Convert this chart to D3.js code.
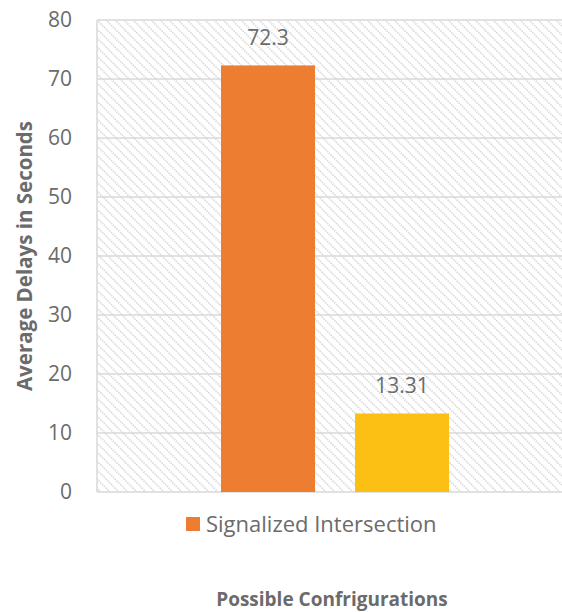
<!DOCTYPE html>
<html>
<head>
<meta charset="utf-8">
<script src="https://cdn.jsdelivr.net/npm/d3@7"></script>
<style>
  body { margin: 0; background: #fff; }
  text { font-family: "Open Sans", "Liberation Sans", sans-serif; fill: #6b6b6b; }
</style>
</head>
<body>
<svg></svg>
<script>
var categories = ['Possible Confrigurations'];
var series = ['Signalized Intersection', ''];
var values = [72.3, 13.31];
var colors = ['#ED7D31', '#FCBF14'];
var yTicks = [0, 10, 20, 30, 40, 50, 60, 70, 80];

var width = 562, height = 612;
var svg = d3.select('svg').attr('width', width).attr('height', height);

var margin = {top: 20, right: -11, bottom: 120, left: 97},
  chartWidth = width - margin.left - margin.right,
  chartHeight = height - margin.top - margin.bottom;

// hatch background
var defs = svg.append('defs');
var pat = defs.append('pattern')
  .attr('id', 'hatch')
  .attr('patternUnits', 'userSpaceOnUse')
  .attr('width', 9).attr('height', 9);
pat.append('path')
  .attr('d', 'M-2,-2 L11,11 M-2,7 L2,11 M7,-2 L11,2')
  .attr('stroke', '#d9d9d9')
  .attr('stroke-width', 1.8)
  .attr('stroke-dasharray', '1.5,1');

var g = svg.append('g').attr('transform', 'translate(' + margin.left + ',' + margin.top + ')');

var x0 = d3.scaleBand().domain(categories).range([0, chartWidth]);
var x1 = d3.scaleBand().domain(series)
  .range([x0.bandwidth() / 2 - 114, x0.bandwidth() / 2 + 114])
  .paddingInner(40 / 134).paddingOuter(0);
var y = d3.scaleLinear().domain([0, 80]).range([chartHeight, 0]);

g.append('rect')
  .attr('x', 0).attr('y', 0)
  .attr('width', chartWidth).attr('height', chartHeight)
  .attr('fill', 'url(#hatch)');

// gridlines
g.selectAll('line.grid')
  .data(yTicks)
  .enter().append('line')
  .attr('class', 'grid')
  .attr('x1', 0).attr('x2', chartWidth)
  .attr('y1', function(d) { return y(d); })
  .attr('y2', function(d) { return y(d); })
  .attr('stroke', '#d9d9d9')
  .attr('stroke-width', 1.5);

g.append('line')
  .attr('x1', 0).attr('x2', 0)
  .attr('y1', 0).attr('y2', chartHeight)
  .attr('stroke', '#d9d9d9')
  .attr('stroke-width', 1.5);

// y axis labels
var yAxis = g.append('g')
  .call(d3.axisLeft(y).tickValues(yTicks).tickSize(0).tickPadding(25));
yAxis.select('.domain').remove();
yAxis.selectAll('text')
  .style('font-size', '21px')
  .style('font-family', '"Open Sans", sans-serif')
  .attr('fill', '#6b6b6b');

// bars
var cat = categories[0];
g.selectAll('rect.bar')
  .data(values)
  .enter().append('rect')
  .attr('class', 'bar')
  .attr('x', function(d, i) { return x0(cat) + x1(series[i]); })
  .attr('width', x1.bandwidth())
  .attr('y', function(d) { return y(d); })
  .attr('height', function(d) { return y(0) - y(d); })
  .attr('fill', function(d, i) { return colors[i]; });

g.selectAll('text.val')
  .data(values)
  .enter().append('text')
  .attr('class', 'val')
  .attr('x', function(d, i) { return x0(cat) + x1(series[i]) + x1.bandwidth() / 2; })
  .attr('y', function(d) { return y(d) - 20; })
  .attr('text-anchor', 'middle')
  .style('font-size', '21px')
  .text(function(d) { return d; });

// legend
var leg = svg.append('g').attr('transform', 'translate(186,517)');
series.forEach(function(s, i) {
  if (!s) return;
  leg.append('rect').attr('width', 14).attr('height', 14).attr('fill', colors[i]);
  leg.append('text').attr('x', 20).attr('y', 15).style('font-size', '22px').text(s);
});

// axis titles
svg.append('text')
  .attr('x', 332).attr('y', 606)
  .attr('text-anchor', 'middle')
  .style('font-size', '19px').style('font-weight', 'bold')
  .text(categories[0]);

svg.append('text')
  .attr('transform', 'translate(32,256) rotate(-90)')
  .attr('text-anchor', 'middle')
  .style('font-size', '20.5px').style('font-weight', 'bold')
  .text('Average Delays in Seconds');
</script>
</body>
</html>
